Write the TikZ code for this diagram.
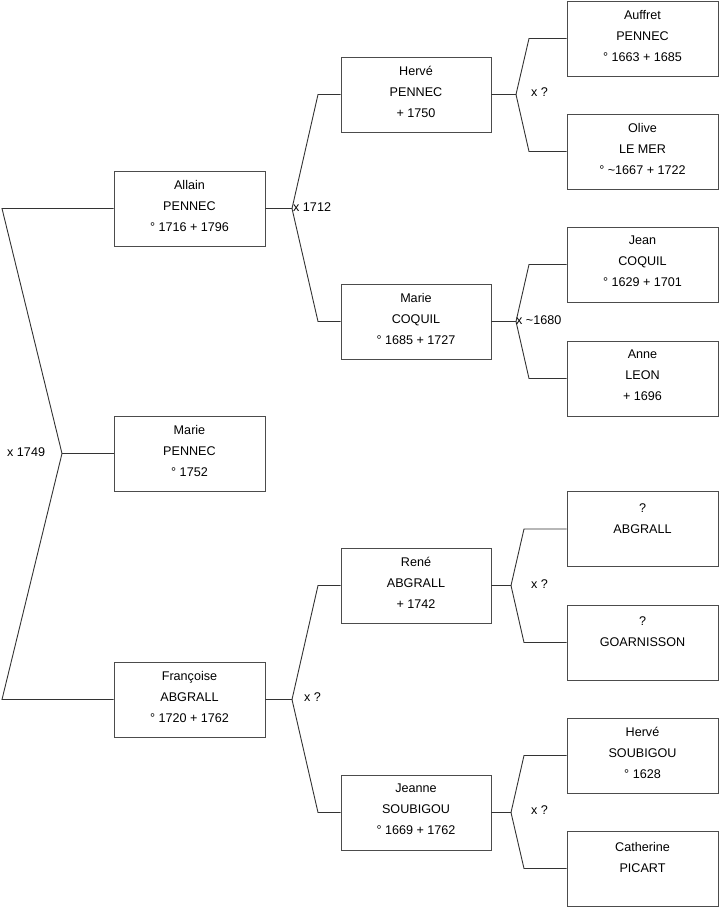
\documentclass[tikz,border=0pt]{standalone}
\usepackage{fontspec}
\setmainfont{Liberation Sans}
\newcommand{\dn}{\rule[-6pt]{0pt}{6pt}}
\newcommand{\up}{\rule{0pt}{15pt}}
\begin{document}
\begin{tikzpicture}[x=1pt,y=-1pt,
  pbox/.style={draw=black!70, line width=0.9pt, minimum width=151pt, minimum height=75pt, inner sep=0pt, align=center, font=\fontsize{12.6}{21}\selectfont},
  conn/.style={draw=black!80, line width=0.9pt},
  mlab/.style={anchor=west, inner sep=0pt, font=\fontsize{12.6}{14}\selectfont}]
\useasboundingbox (0,0) rectangle (719,908);
% column 1
\node[pbox] (allain) at (189.5,208.5) {Allain\\PENNEC\\° 1716 + 1796\dn};
\node[pbox] (marieP) at (189.5,453.5) {Marie\\PENNEC\\° 1752\dn};
\node[pbox] (francoise) at (189.5,699.5) {Françoise\\ABGRALL\\° 1720 + 1762\dn};
% column 2
\node[pbox, minimum width=150pt] (herve) at (416,94.5) {Hervé\\PENNEC\\+ 1750\dn};
\node[pbox, minimum width=150pt] (marieC) at (416,321.5) {Marie\\COQUIL\\° 1685 + 1727\dn};
\node[pbox, minimum width=150pt] (rene) at (416,585.5) {René\\ABGRALL\\+ 1742\dn};
\node[pbox, minimum width=150pt] (jeanne) at (416,812.5) {Jeanne\\SOUBIGOU\\° 1669 + 1762\dn};
% column 3
\node[pbox] (auffret) at (642.5,38.5) {Auffret\\PENNEC\\° 1663 + 1685\dn};
\node[pbox] (olive) at (642.5,151.5) {Olive\\LE MER\\° \textasciitilde 1667 + 1722\dn};
\node[pbox] (jean) at (642.5,264.5) {Jean\\COQUIL\\° 1629 + 1701\dn};
\node[pbox] (anne) at (642.5,378.5) {Anne\\LEON\\+ 1696\dn};
\node[pbox] (abgrall) at (642.5,529) {\up?\\ABGRALL\\\strut};
\node[pbox] (goarnisson) at (642.5,642.5) {\up?\\GOARNISSON\\\strut};
\node[pbox] (herveS) at (642.5,755.5) {Hervé\\SOUBIGOU\\° 1628\dn};
\node[pbox] (catherine) at (642.5,868.5) {\up Catherine\\PICART\\\strut};
% root couple
\coordinate (r1) at (2,208.5);
\coordinate (r0) at (62,453.5);
\coordinate (r2) at (2,699.5);
\draw[conn] (allain.west) -- (r1) -- (r0) -- (r2) -- (francoise.west);
\draw[conn] (r0) -- (marieP.west);
\node[mlab] (m0) at (7,452) {x 1749};
% Allain's parents
\coordinate (a0) at (292,208.5);
\coordinate (a1) at (318,94.5);
\coordinate (a2) at (318,321.5);
\draw[conn] (allain.east) -- (a0) -- (a1) -- (herve.west);
\draw[conn] (a0) -- (a2) -- (marieC.west);
\node[mlab] (m1) at (293,207) {x 1712};
% Herve's parents
\coordinate (h0) at (516,94.5);
\coordinate (h1) at (529,38.5);
\coordinate (h2) at (529,151.5);
\draw[conn] (herve.east) -- (h0) -- (h1) -- (auffret.west);
\draw[conn] (h0) -- (h2) -- (olive.west);
\node[mlab] (m2) at (531,92) {x ?};
% Marie Coquil's parents
\coordinate (c0) at (516,321.5);
\coordinate (c1) at (529,264.5);
\coordinate (c2) at (529,378.5);
\draw[conn] (marieC.east) -- (c0) -- (c1) -- (jean.west);
\draw[conn] (c0) -- (c2) -- (anne.west);
\node[mlab] (m3) at (516,320) {x \textasciitilde 1680};
% Francoise's parents
\coordinate (f0) at (292,699.5);
\coordinate (f1) at (318,585.5);
\coordinate (f2) at (318,812.5);
\draw[conn] (francoise.east) -- (f0) -- (f1) -- (rene.west);
\draw[conn] (f0) -- (f2) -- (jeanne.west);
\node[mlab] (m4) at (304,697) {x ?};
% Rene's parents
\coordinate (n0) at (511,585.5);
\coordinate (n1) at (524,529);
\coordinate (n2) at (524,642.5);
\draw[conn] (rene.east) -- (n0) -- (n1) -- (abgrall.west);
\draw[conn] (n0) -- (n2) -- (goarnisson.west);
\node[mlab] (m5) at (531,584) {x ?};
% Jeanne's parents
\coordinate (j0) at (511,812.5);
\coordinate (j1) at (524,755.5);
\coordinate (j2) at (524,868.5);
\draw[conn] (jeanne.east) -- (j0) -- (j1) -- (herveS.west);
\draw[conn] (j0) -- (j2) -- (catherine.west);
\node[mlab] (m6) at (531,810) {x ?};
\end{tikzpicture}
\end{document}
